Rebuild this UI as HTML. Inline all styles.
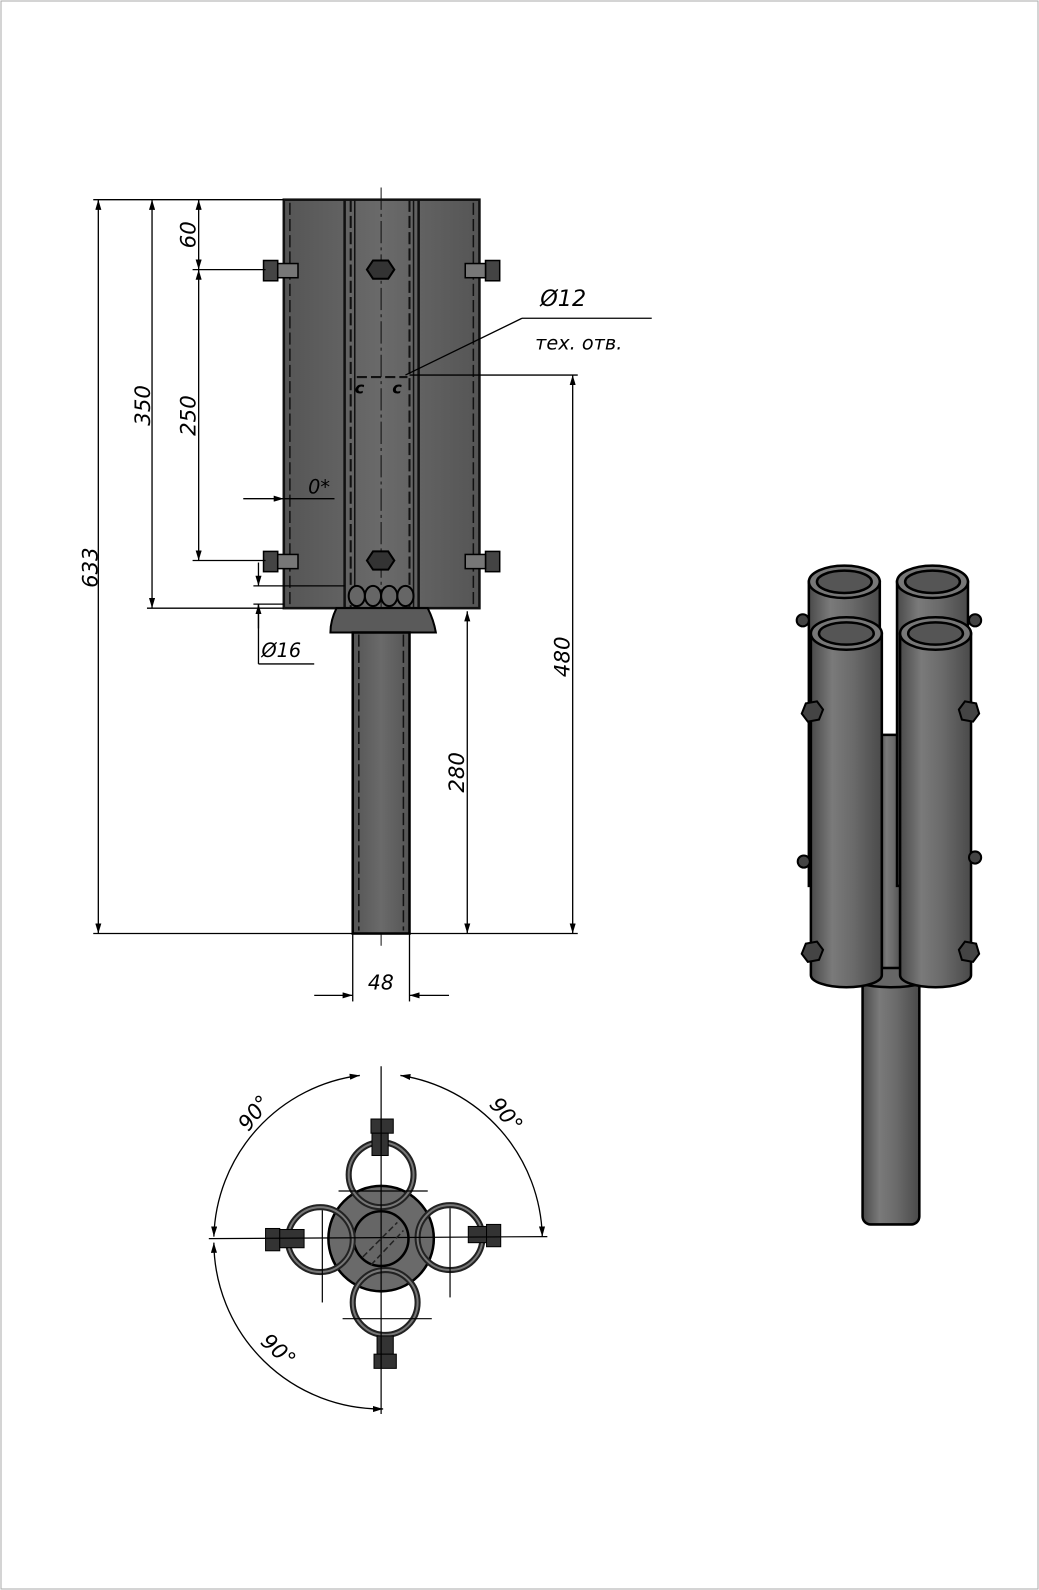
<!DOCTYPE html>
<html><head><meta charset="utf-8"><style>
html,body{margin:0;padding:0;background:#fff}
svg{display:block}
text{font-family:"DejaVu Sans","Liberation Sans",sans-serif;font-style:italic;fill:#000}
</style></head><body>
<svg width="1039" height="1590" viewBox="0 0 1039 1590" xmlns="http://www.w3.org/2000/svg">
<defs>
<linearGradient id="tube" x1="0" x2="1" y1="0" y2="0">
<stop offset="0" stop-color="#4a4a4a"/><stop offset="0.3" stop-color="#7a7a7a"/><stop offset="0.6" stop-color="#6a6a6a"/><stop offset="1" stop-color="#4a4a4a"/></linearGradient>
<linearGradient id="flat" x1="0" x2="1"><stop offset="0" stop-color="#555"/><stop offset="0.5" stop-color="#6a6a6a"/><stop offset="1" stop-color="#555"/></linearGradient>
<marker id="a" viewBox="0 0 10 6" refX="10" refY="3" markerWidth="10" markerHeight="6" orient="auto-start-reverse" markerUnits="userSpaceOnUse"><path d="M0,0L10,3L0,6z" fill="#000"/></marker>
</defs>
<rect x="1" y="1" width="1037" height="1588" fill="none" stroke="#aaa" stroke-width="1"/>
<g transform="scale(1.0136)">

<!-- main view body -->
<rect x="280" y="197" width="193" height="403" fill="url(#flat)" stroke="#111" stroke-width="2.5"/>
<g stroke="#111" stroke-width="1.5" fill="none">
<line x1="286" y1="200" x2="286" y2="597" stroke-dasharray="12 4"/>
<line x1="467" y1="200" x2="467" y2="597" stroke-dasharray="12 4"/>
<line x1="340" y1="197" x2="340" y2="600" stroke-width="2.5"/>
<line x1="346" y1="197" x2="346" y2="600" stroke-dasharray="12 4" stroke-width="2"/>
<line x1="350" y1="197" x2="350" y2="600" stroke-width="1.5"/>
<line x1="404" y1="197" x2="404" y2="600" stroke-dasharray="12 4" stroke-width="2"/>
<line x1="408" y1="197" x2="408" y2="600" stroke-width="1.5"/>
<line x1="413" y1="197" x2="413" y2="600" stroke-width="2.5"/>
<line x1="376" y1="185" x2="376" y2="935" stroke-dasharray="22 4 3 4" stroke-width="1"/>
<line x1="352" y1="372" x2="402" y2="372" stroke-dasharray="10 4" stroke-width="2"/>
</g>
<text x="350" y="388" font-size="16" font-style="normal" font-weight="bold">c</text>
<text x="387" y="388" font-size="16" font-style="normal" font-weight="bold">c</text>
<polygon points="362,266 368,257 383,257 389,266 383,275 368,275" fill="#333" stroke="#000" stroke-width="2"/>
<polygon points="362,553 368,544 383,544 389,553 383,562 368,562" fill="#333" stroke="#000" stroke-width="2"/>
<g fill="#444" stroke="#000" stroke-width="1.5">
<rect x="260" y="257" width="14" height="20"/><rect x="274" y="260" width="20" height="14" fill="#777"/>
<rect x="260" y="544" width="14" height="20"/><rect x="274" y="547" width="20" height="14" fill="#777"/>
<rect x="479" y="257" width="14" height="20"/><rect x="459" y="260" width="20" height="14" fill="#777"/>
<rect x="479" y="544" width="14" height="20"/><rect x="459" y="547" width="20" height="14" fill="#777"/>
</g>
<g fill="#666" stroke="#000" stroke-width="2"><ellipse cx="352" cy="588" rx="8" ry="10"/><ellipse cx="368" cy="588" rx="8" ry="10"/><ellipse cx="384" cy="588" rx="8" ry="10"/><ellipse cx="400" cy="588" rx="8" ry="10"/></g>
<path d="M332,600 L422,600 Q428,612 430,624 L326,624 Q326,612 332,600 Z" fill="#5a5a5a" stroke="#000" stroke-width="2"/>
<rect x="348" y="624" width="56" height="297" fill="url(#flat)" stroke="#000" stroke-width="2.5"/>
<line x1="354" y1="626" x2="354" y2="918" stroke="#111" stroke-width="1.5" stroke-dasharray="12 4"/>
<line x1="398" y1="626" x2="398" y2="918" stroke="#111" stroke-width="1.5" stroke-dasharray="12 4"/>

<g stroke="#000" stroke-width="1.3" fill="none">
<line x1="92" y1="197" x2="280" y2="197"/>
<line x1="92" y1="921" x2="570" y2="921"/>
<line x1="97" y1="197" x2="97" y2="921" marker-start="url(#a)" marker-end="url(#a)"/>
<line x1="145" y1="600" x2="280" y2="600"/>
<line x1="150" y1="197" x2="150" y2="600" marker-start="url(#a)" marker-end="url(#a)"/>
<line x1="190" y1="266" x2="262" y2="266"/>
<line x1="190" y1="553" x2="262" y2="553"/>
<line x1="196" y1="197" x2="196" y2="266" marker-start="url(#a)" marker-end="url(#a)"/>
<line x1="196" y1="266" x2="196" y2="553" marker-start="url(#a)" marker-end="url(#a)"/>
<line x1="404" y1="370" x2="570" y2="370"/>
<line x1="565" y1="370" x2="565" y2="921" marker-start="url(#a)" marker-end="url(#a)"/>
<line x1="461" y1="603" x2="461" y2="921" marker-start="url(#a)" marker-end="url(#a)"/>
<line x1="348" y1="921" x2="348" y2="988"/>
<line x1="404" y1="921" x2="404" y2="988"/>
<line x1="310" y1="982" x2="348" y2="982" marker-end="url(#a)"/>
<line x1="443" y1="982" x2="404" y2="982" marker-end="url(#a)"/>
<line x1="240" y1="492" x2="280" y2="492" marker-end="url(#a)"/>
<line x1="280" y1="492" x2="330" y2="492"/>
<line x1="250" y1="578" x2="340" y2="578"/>
<line x1="250" y1="596" x2="280" y2="596"/>
<line x1="255" y1="555" x2="255" y2="578" marker-end="url(#a)"/>
<line x1="255" y1="620" x2="255" y2="596" marker-end="url(#a)"/>
<line x1="255" y1="596" x2="255" y2="655"/>
<line x1="255" y1="655" x2="310" y2="655"/>
<line x1="400" y1="370" x2="515" y2="314"/>
<line x1="515" y1="314" x2="643" y2="314"/>
</g>
<text transform="translate(96,580) rotate(-90)" font-size="21">633</text>
<text transform="translate(148,420) rotate(-90)" font-size="21">350</text>
<text transform="translate(193,245) rotate(-90)" font-size="21">60</text>
<text transform="translate(193,430) rotate(-90)" font-size="21">250</text>
<text transform="translate(562,668) rotate(-90)" font-size="21">480</text>
<text transform="translate(458,782) rotate(-90)" font-size="21">280</text>
<text x="363" y="976" font-size="20">48</text>
<text x="304" y="487" font-size="19">0*</text>
<text x="258" y="648" font-size="19">Ø16</text>
<text x="533" y="302" font-size="22">Ø12</text>
<text x="528" y="345" font-size="19">тех. отв.</text>

<g stroke="#000" stroke-width="1.3" fill="none">
<path d="M355,1061 A165,165 0 0 0 211,1220" marker-start="url(#a)" marker-end="url(#a)"/>
<path d="M395,1061 A165,165 0 0 1 535,1220" marker-start="url(#a)" marker-end="url(#a)"/>
<path d="M211,1226 A165,165 0 0 0 378,1390" marker-start="url(#a)" marker-end="url(#a)"/>
</g>
<circle cx="376" cy="1222" r="52" fill="#6a6a6a" stroke="#000" stroke-width="2.5"/>
<circle cx="376" cy="1222" r="27" fill="#666" stroke="#000" stroke-width="2.5"/>
<g fill="none" stroke="#222" stroke-width="6">
<circle cx="376" cy="1159" r="32"/><circle cx="316" cy="1223" r="32"/><circle cx="444" cy="1221" r="32"/><circle cx="380" cy="1285" r="32"/>
</g>
<g fill="none" stroke="#777" stroke-width="2">
<circle cx="376" cy="1159" r="32"/><circle cx="316" cy="1223" r="32"/><circle cx="444" cy="1221" r="32"/><circle cx="380" cy="1285" r="32"/>
</g>
<g fill="#333" stroke="#000" stroke-width="1">
<rect x="366" y="1104" width="22" height="14"/><rect x="367" y="1118" width="16" height="22"/>
<rect x="372" y="1318" width="16" height="18"/><rect x="369" y="1336" width="22" height="14"/>
<rect x="262" y="1212" width="14" height="22"/><rect x="276" y="1213" width="24" height="18"/>
<rect x="462" y="1210" width="18" height="16"/><rect x="480" y="1208" width="14" height="22"/>
</g>
<g stroke="#000" stroke-width="1.2">
<line x1="376" y1="1052" x2="376" y2="1395"/><line x1="206" y1="1222" x2="540" y2="1220"/>
<line x1="334" y1="1175" x2="422" y2="1175"/><line x1="318" y1="1194" x2="318" y2="1285"/>
<line x1="444" y1="1192" x2="444" y2="1280"/><line x1="338" y1="1301" x2="426" y2="1301"/>
</g>
<g stroke="#222" stroke-width="1.5" stroke-dasharray="6 3"><line x1="358" y1="1240" x2="392" y2="1206"/><line x1="366" y1="1248" x2="398" y2="1214"/></g>
<text transform="translate(245,1117) rotate(-52)" font-size="21">90°</text>
<text transform="translate(482,1090) rotate(50)" font-size="21">90°</text>
<text transform="translate(256,1325) rotate(42)" font-size="21">90°</text>

<g stroke="#000" stroke-width="2.5">
<rect x="851" y="960" width="56" height="248" rx="8" fill="url(#tube)"/>
<ellipse cx="879" cy="960" rx="46" ry="14" fill="#666"/>
<rect x="868" y="725" width="22" height="230" fill="url(#tube)"/>
<rect x="798" y="574" width="70" height="300" fill="url(#tube)"/>
<rect x="885" y="574" width="70" height="300" fill="url(#tube)"/>
<ellipse cx="833" cy="574" rx="35" ry="16" fill="#777"/><ellipse cx="833" cy="574" rx="27" ry="11" fill="#555"/>
<ellipse cx="920" cy="574" rx="35" ry="16" fill="#777"/><ellipse cx="920" cy="574" rx="27" ry="11" fill="#555"/>
<path d="M800,625 L800,962 A35,12 0 0 0 870,962 L870,625 Z" fill="url(#tube)"/>
<path d="M888,625 L888,962 A35,12 0 0 0 958,962 L958,625 Z" fill="url(#tube)"/>
<ellipse cx="835" cy="625" rx="35" ry="16" fill="#777"/><ellipse cx="835" cy="625" rx="27" ry="11" fill="#555"/>
<ellipse cx="923" cy="625" rx="35" ry="16" fill="#777"/><ellipse cx="923" cy="625" rx="27" ry="11" fill="#555"/>
</g>
<g fill="#444" stroke="#000" stroke-width="2">
<polygon points="791,704 795,694 806,692 812,700 808,710 797,712"/>
<polygon points="946,700 952,692 963,694 966,704 960,712 949,710"/>
<polygon points="791,941 795,931 806,929 812,937 808,947 797,949"/>
<polygon points="946,937 952,929 963,931 966,941 960,949 949,947"/>
<circle cx="792" cy="612" r="6"/><circle cx="962" cy="612" r="6"/>
<circle cx="793" cy="850" r="6"/><circle cx="962" cy="846" r="6"/>
</g>
</g>
</svg>
</body></html>
